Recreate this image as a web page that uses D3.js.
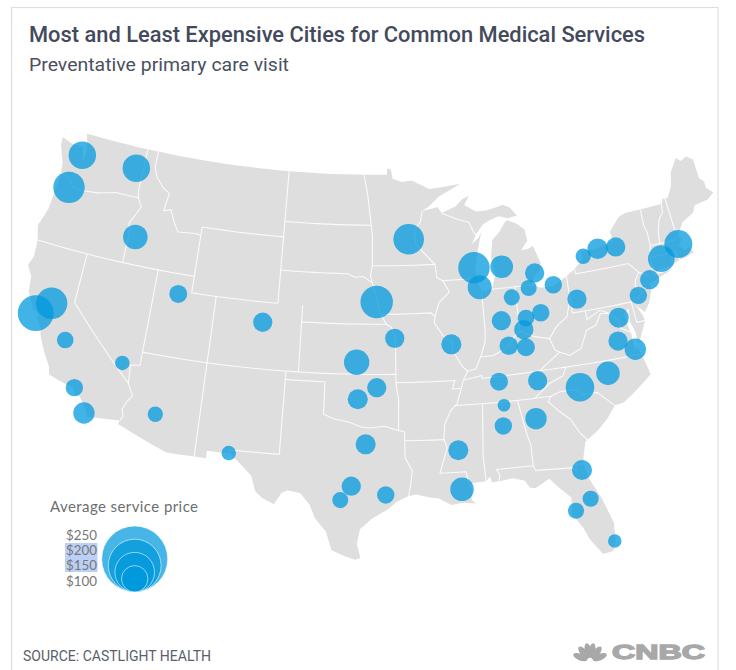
<!DOCTYPE html>
<html>
<head>
<meta charset="utf-8">
<script src="https://d3js.org/d3.v7.min.js"></script>
<style>
    body { margin: 0; background: #fff; }
    svg { display: block; }
</style>
</head>
<body>
<div id="chart"></div>
<script>
const cityNames = ['Minneapolis','Milwaukee','Chicago','Grand Rapids','Detroit','Toledo','Fort Wayne','Cleveland','Pittsburgh','Buffalo','Rochester','Syracuse','Boston','Hartford','New York','Philadelphia','Washington','Richmond','Norfolk','Raleigh','Charlotte','Knoxville','Nashville','Huntsville','Birmingham','Atlanta','Columbus','Dayton','Cincinnati','Indianapolis','Louisville','Lexington','St. Louis','Kansas City','Omaha','Tulsa','Wichita','Oklahoma City','Dallas','Austin','San Antonio','Houston','New Orleans','Jackson','Jacksonville','Orlando','Tampa','Miami','El Paso','Phoenix','Las Vegas','Los Angeles','San Diego','Fresno','Seattle','Spokane','Portland','Boise','San Francisco','Sacramento','Salt Lake City','Denver'];
const cityLon = [-93.35,-87.99,-87.66,-85.69,-83.05,-83.70,-85.15,-81.68,-79.98,-78.87,-77.58,-76.08,-70.99,-72.64,-73.96,-75.12,-77.00,-77.41,-76.24,-78.62,-80.86,-83.93,-86.83,-86.63,-86.83,-84.40,-83.00,-84.22,-84.50,-86.18,-85.81,-84.50,-90.25,-94.66,-96.08,-96.07,-97.62,-97.49,-96.87,-97.85,-98.59,-95.44,-90.12,-90.21,-81.64,-81.35,-82.46,-80.20,-106.64,-112.27,-115.38,-118.46,-117.36,-119.98,-122.61,-117.67,-122.95,-116.45,-122.70,-121.72,-112.10,-105.12];
const cityLat = [45.07,43.14,41.94,43.04,42.43,41.58,41.15,41.57,40.50,42.96,43.24,43.13,42.42,41.83,40.77,40.01,38.95,37.59,36.90,35.81,35.27,36.02,36.22,34.79,33.56,33.78,40.02,39.82,39.15,39.83,38.30,38.09,38.67,39.15,41.33,36.21,37.72,35.51,32.82,30.29,29.44,29.78,29.96,32.32,30.35,28.56,27.97,25.80,31.80,33.48,36.13,34.06,32.71,36.69,47.66,47.72,45.57,43.66,37.78,38.60,40.80,39.79];
const cityPrice = [116,119,91,86,73,61,61,66,73,58,78,73,106,101,73,66,76,73,81,89,108,73,68,48,66,81,66,63,73,73,70,68,76,73,123,73,96,76,76,73,61,66,89,76,76,61,61,51,55,58,55,66,81,63,104,104,119,93,136,119,68,73];

const legendPrices = [250, 200, 150, 100];
const legendLabels = ['$250', '$200', '$150', '$100'];

const titleText = 'Most and Least Expensive Cities for Common Medical Services';
const subtitleText = 'Preventative primary care visit';
const legendTitle = 'Average service price';
const sourceText = 'SOURCE: CASTLIGHT HEALTH';

// outline of the lower 48, clockwise from Cape Flattery, [lon, lat]
const landOutline = [
    [-124.73,48.38],[-123.9,48.17],[-123.1,48.15],[-122.76,48.14],[-122.55,47.6],[-122.45,47.3],[-122.3,47.9],[-122.5,48.5],[-122.76,49],
    [-95.15,49],[-95.15,49.38],[-94.8,49.33],[-94.64,48.74],[-93.8,48.55],[-92.95,48.62],[-92,48.3],[-91.4,48.07],[-90.75,48.1],[-88.6,48.25],
    [-90.5,47.6],[-91.5,47],[-92.1,46.75],[-91.2,46.87],[-90.75,46.95],[-90.4,46.57],[-89.2,46.9],[-88.45,47.35],[-87.9,47.47],[-88.4,46.95],[-87.4,46.5],[-86.5,46.5],[-85,46.75],[-84.4,46.5],[-84.1,46.2],[-83.9,46],[-84.7,45.9],[-85.5,46.08],[-86.3,45.9],[-86.9,45.7],[-87.6,45.1],[-88,44.55],[-87.4,44.9],[-87.1,45.25],[-87.5,44.3],[-87.9,43.1],[-87.8,42.3],[-87.55,41.75],[-87.2,41.63],[-86.6,41.9],[-86.25,42.7],[-86.5,43.6],[-86.25,44.7],[-85.6,45.1],[-85,45.7],[-84.75,45.78],[-84,45.5],[-83.4,45.1],[-83.3,44.4],[-83.9,43.9],[-83.4,43.9],[-82.9,44.05],[-82.45,43],[-82.5,42.6],[-83.1,42.25],[-83.45,41.72],[-82.7,41.5],[-81.7,41.5],[-80.5,41.97],[-79.8,42.27],[-78.9,42.85],[-79.05,43.27],[-77.5,43.27],[-76.2,43.55],[-76.3,44.1],[-75.3,44.85],[-74.7,45],[-71.5,45.01],[-71.3,45.3],[-70.85,45.25],[-70.3,45.9],[-70,46.7],[-69.23,47.46],[-68.9,47.2],[-68.3,47.36],[-67.8,47.07],[-67.78,45.9],[-67.45,45.6],[-67.45,45.2],[-66.97,44.82],[-67.6,44.5],[-68.8,44.4],[-69.1,44],[-70.2,43.6],[-70.7,43.05],[-70.8,42.85],[-70.6,42.65],[-71,42.3],[-70.6,41.95],[-70.2,42.07],[-69.95,41.7],[-70.6,41.55],[-71.2,41.48],[-71.9,41.3],[-72.9,41.25],[-73.65,40.98],[-72,41.05],[-73.9,40.58],[-74,40.55],[-74.05,40.1],[-74.4,39.45],[-74.9,38.95],[-75.3,39.3],[-75.55,39.55],[-75.1,38.75],[-75.05,38.45],[-75.6,37.6],[-75.95,37.15],[-75.95,37.9],[-76.2,38.6],[-76.1,39.35],[-76.5,39.2],[-76.45,38.4],[-76.3,37.9],[-76.3,37],[-76,36.9],[-75.75,36.2],[-75.5,35.25],[-76.5,34.65],[-77.9,33.9],[-78.55,33.85],[-79.2,33.2],[-80,32.6],[-81.1,32],[-81.4,31.1],[-81.45,30.7],[-81.3,29.9],[-80.6,28.5],[-80.05,26.9],[-80.15,25.75],[-80.4,25.2],[-81.1,25.13],[-81.8,26.1],[-82.15,26.9],[-82.75,27.8],[-82.65,28.8],[-83.4,29.5],[-84,30.1],[-85,29.65],[-85.4,29.7],[-85.7,30.15],[-86.5,30.38],[-87.5,30.28],[-88,30.25],[-88.1,30.6],[-88.4,30.35],[-89.3,30.3],[-89.6,30.18],[-89.4,29.9],[-89.5,29.3],[-89.2,29.05],[-90.1,29.15],[-90.9,29.05],[-91.8,29.5],[-92.3,29.55],[-93.3,29.77],[-93.85,29.7],[-94.7,29.35],[-95.3,28.9],[-96.4,28.35],[-97.2,27.7],[-97.4,26.8],[-97.15,25.95],[-97.5,25.85],[-98.2,26.05],[-99.1,26.4],[-99.5,27.5],[-100.3,28.3],[-100.7,29.1],[-101.4,29.77],[-102.3,29.88],[-102.7,29.7],[-103.15,28.98],[-104,29.3],[-104.5,29.65],[-104.9,30.6],[-106,31.4],[-106.53,31.78],[-108.2,31.78],[-108.2,31.33],[-111.07,31.33],[-114.8,32.5],[-114.72,32.72],[-117.12,32.53],[-117.25,32.85],[-117.9,33.6],[-118.4,33.75],[-118.5,34.03],[-119.2,34.15],[-120.5,34.45],[-120.65,34.9],[-121.3,35.7],[-121.9,36.6],[-122,36.95],[-122.5,37.5],[-122.5,37.8],[-123,38],[-123.7,38.9],[-123.85,39.8],[-124.35,40.4],[-124.1,41],[-124.2,42],[-124.55,42.85],[-124.1,44],[-123.95,46.2],[-124.1,46.9],[-124.7,47.9]
];

const stateBorders = [
    [[-124,46.25],[-123.2,46.15],[-122.8,45.75],[-122.3,45.55],[-121.2,45.65],[-120.5,45.7],[-119.3,45.93],[-119,46],[-116.92,46]],
    [[-117.03,49],[-117.04,46.4],[-116.92,46],[-116.5,45.5],[-116.85,44.95],[-117.22,44.4],[-117.03,43.85],[-117.03,42]],
    [[-124.2,42],[-111.05,42]],
    [[-120,42],[-120,39],[-114.63,35],[-114.15,34.3],[-114.5,33.9],[-114.72,33.4],[-114.55,33],[-114.72,32.72]],
    [[-114.04,42],[-114.04,36.2],[-114.75,36.1],[-114.63,35]],
    [[-116.05,49],[-116.05,48],[-115.7,47.45],[-114.95,46.9],[-114.35,46.65],[-114.55,45.55],[-113.95,45.7],[-113.45,44.95],[-113,44.45],[-111.5,44.55],[-111.05,44.48]],
    [[-111.05,45],[-104.05,45]],
    [[-111.05,45],[-111.05,41],[-104.05,41]],
    [[-109.05,41],[-109.05,31.33]],
    [[-114.04,37],[-94.62,37]],
    [[-104.05,49],[-104.05,41]],
    [[-102.05,41],[-102.05,37]],
    [[-103,37],[-103.04,32],[-106.62,32],[-106.53,31.78]],
    [[-103,36.5],[-100,36.5],[-100,34.56],[-99.2,34.3],[-98.1,34.13],[-97.2,33.85],[-96.5,33.8],[-95.5,33.9],[-94.48,33.64],[-94.04,33.55]],
    [[-104.05,45.94],[-96.56,45.94]],
    [[-104.05,43],[-98.5,43],[-97.9,42.8],[-97.2,42.85],[-96.45,42.49]],
    [[-102.05,40],[-95.3,40]],
    [[-95.77,40.58],[-95.3,40],[-94.9,39.8],[-94.6,39.1],[-94.62,36.5],[-94.43,35.4],[-94.48,33.64]],
    [[-97.23,49],[-96.85,47.6],[-96.56,45.94],[-96.45,45.3],[-96.45,43.5],[-96.6,42.9],[-96.45,42.49],[-96.1,41.7],[-95.9,41],[-95.77,40.58]],
    [[-96.45,43.5],[-91.22,43.5]],
    [[-95.77,40.58],[-91.73,40.61],[-91.42,40.38]],
    [[-92.1,46.75],[-92.3,46.1],[-92.85,45.6],[-92.75,44.75],[-91.22,43.5],[-91.1,42.7],[-90.64,42.5],[-90.15,41.8],[-91.05,41.2],[-91.42,40.38],[-91.5,40],[-90.7,39],[-90.15,38.8],[-90.2,38.3],[-89.5,37.3],[-89.13,37],[-89.5,36.5],[-89.7,36],[-90.1,35.1],[-90.6,34.7],[-91.1,33.9],[-91.2,33],[-91,32.5],[-91.6,31],[-89.75,31],[-89.6,30.18]],
    [[-90.64,42.5],[-87.8,42.5]],
    [[-90.4,46.57],[-89.1,46.13],[-88.1,45.9],[-87.8,45.35],[-87.6,45.1]],
    [[-87.53,41.7],[-87.53,39.35],[-87.6,38.7],[-87.95,38],[-88.05,37.8]],
    [[-89.13,37],[-88.5,37.1],[-88.05,37.8],[-87.1,37.8],[-86.5,38],[-85.8,38.27],[-85.4,38.72],[-84.82,39.1],[-84.3,38.85],[-83.7,38.65],[-82.6,38.42],[-82,39],[-81.7,39.2],[-81,39.55],[-80.75,40.1],[-80.52,40.63],[-80.52,41.97]],
    [[-84.82,39.1],[-84.8,41.76]],
    [[-86.82,41.76],[-84.8,41.76],[-83.45,41.73]],
    [[-80.52,40.63],[-80.52,39.72],[-75.79,39.72],[-75.7,38.46],[-75.05,38.45]],
    [[-79.76,42.27],[-79.76,42],[-75.35,42],[-74.7,41.36],[-75.1,40.9],[-75.2,40.6],[-74.72,40.15],[-75.4,39.8]],
    [[-74.7,41.36],[-73.9,41]],
    [[-76.3,37.95],[-77,38.3],[-77.05,38.8],[-77.7,39.32],[-78.35,39.6],[-79.48,39.2],[-79.48,39.72]],
    [[-77.72,39.32],[-78.35,39.4],[-78.87,38.76],[-79.65,38.57],[-80.3,37.55],[-81.25,37.25],[-81.97,37.54],[-82.3,37.7],[-82.6,38.42]],
    [[-81.97,37.54],[-83.68,36.6]],
    [[-75.87,36.55],[-81.68,36.59],[-83.68,36.6],[-88.07,36.5],[-88.07,36.68],[-89.42,36.5]],
    [[-90.3,35],[-84.32,34.99]],
    [[-81.68,36.59],[-82,36.1],[-83.1,35.75],[-84.32,34.99]],
    [[-84.32,35],[-83.1,35],[-82.3,35.2],[-81.05,35.15],[-80.8,34.82],[-79.67,34.8],[-78.55,33.85]],
    [[-83.1,35],[-83.35,34.7],[-82.6,34],[-81.9,33.45],[-81.4,32.6],[-80.88,32.03]],
    [[-85.6,34.98],[-85.18,32.87],[-85,32.3],[-85,31],[-87.6,31],[-87.4,30.65],[-87.5,30.28]],
    [[-85,31],[-84.86,30.7],[-82.2,30.57],[-82.05,30.36],[-82,30.75],[-81.45,30.7]],
    [[-88.2,35],[-88.47,31.9],[-88.4,30.35]],
    [[-94.04,33.02],[-91.17,33]],
    [[-94.62,36.5],[-90.15,36.5],[-90.37,36],[-89.7,36]],
    [[-94.04,33.55],[-94.04,32],[-93.55,31.2],[-93.7,30.3],[-93.85,29.7]],
    [[-73.35,45],[-73.4,44],[-73.25,43.55],[-73.27,42.75],[-73.5,42.05],[-73.5,41.3],[-73.65,41]],
    [[-71.5,45.01],[-71.6,44.5],[-72.05,44.1],[-72.35,43.4],[-72.46,42.73]],
    [[-73.27,42.75],[-71.3,42.7],[-70.8,42.87]],
    [[-70.7,43.05],[-70.98,43.4],[-71.08,45.3]],
    [[-73.5,42.05],[-71.38,42.02],[-71.2,41.5]],
    [[-71.8,42.02],[-71.85,41.32]]
];

const featherAngles = [-68, -38, -11, 11, 38, 68];

const width = 736, height = 670;
const svg = d3.select('#chart').append('svg')
    .attr('width', width)
    .attr('height', height);

// frame runs off the bottom of the page
svg.append('rect')
    .attr('x', 11.5).attr('y', 7.5)
    .attr('width', 706.5).attr('height', 680)
    .attr('fill', 'none').attr('stroke', '#dedede').attr('stroke-width', 1.2);

svg.append('text')
    .attr('x', 29).attr('y', 42)
    .attr('textLength', 616).attr('lengthAdjust', 'spacingAndGlyphs')
    .style('font', "500 22px Roboto").style('fill', '#434a5c')
    .text(titleText);

svg.append('text')
    .attr('x', 29).attr('y', 71)
    .attr('textLength', 260).attr('lengthAdjust', 'spacingAndGlyphs')
    .style('font', "400 19px Roboto").style('fill', '#4a5060')
    .text(subtitleText);

const projection = d3.geoAlbers().scale(950).translate([370, 346]);

// split long edges so parallels curve the way the projection bends them
function densify(coords) {
    const out = [coords[0]];
    for (let i = 1; i < coords.length; i++) {
        const a = coords[i - 1], b = coords[i];
        const steps = Math.max(1, Math.ceil(Math.abs(b[0] - a[0])));
        for (let s = 1; s <= steps; s++) {
            out.push([a[0] + (b[0] - a[0]) * s / steps, a[1] + (b[1] - a[1]) * s / steps]);
        }
    }
    return out;
}

const geoLine = d3.line().x(d => projection(d)[0]).y(d => projection(d)[1]);

svg.append('path')
    .attr('d', geoLine(densify(landOutline)) + 'Z')
    .attr('fill', '#dedede');

svg.append('g').selectAll('path')
    .data(stateBorders)
    .enter().append('path')
    .attr('d', d => geoLine(densify(d)))
    .attr('fill', 'none')
    .attr('stroke', '#fff')
    .attr('stroke-width', 1.1)
    .attr('stroke-opacity', 0.85);

const rScale = d3.scaleLinear().domain([0, 250]).range([0, 33]);
const circleColor = '#0099dd';

const cities = cityNames.map((name, i) => ({
    name, lon: cityLon[i], lat: cityLat[i], price: cityPrice[i]
}));

svg.append('g').selectAll('circle')
    .data(cities)
    .enter().append('circle')
    .attr('cx', d => projection([d.lon, d.lat])[0])
    .attr('cy', d => projection([d.lon, d.lat])[1])
    .attr('r', d => rScale(d.price))
    .attr('fill', circleColor)
    .attr('fill-opacity', 0.74);

// legend
svg.append('text')
    .attr('x', 50).attr('y', 512)
    .attr('textLength', 148)
    .style('font', "15px Lato").style('fill', '#6e6e6e')
    .text(legendTitle);

// the selection highlight left behind the two middle labels
svg.append('rect')
    .attr('x', 65).attr('y', 543)
    .attr('width', 32.5).attr('height', 29)
    .attr('fill', '#bcd0f5');

const legendY = d3.scalePoint().domain(legendLabels).range([540, 585.5]);

svg.append('g').selectAll('text')
    .data(legendLabels)
    .enter().append('text')
    .attr('x', 66)
    .attr('y', d => legendY(d))
    .attr('textLength', 31).attr('lengthAdjust', 'spacingAndGlyphs')
    .style('font', "12.6px Lato").style('fill', '#777')
    .text(d => d);

const legendBottom = 592, legendX = 134.7;
svg.append('g').selectAll('circle')
    .data(legendPrices)
    .enter().append('circle')
    .attr('cx', legendX)
    .attr('cy', d => legendBottom - rScale(d))
    .attr('r', d => rScale(d))
    .attr('fill', circleColor)
    .attr('fill-opacity', 0.72)
    .attr('stroke', '#fff')
    .attr('stroke-opacity', 0.7)
    .attr('stroke-width', 0.8);

svg.append('text')
    .attr('x', 23).attr('y', 660.5)
    .attr('textLength', 188).attr('lengthAdjust', 'spacingAndGlyphs')
    .style('font', "14.5px Roboto").style('fill', '#5b5f6a')
    .text(sourceText);

// CNBC mark
const logo = svg.append('g').attr('transform', 'translate(590,661)');
logo.selectAll('ellipse')
    .data(featherAngles)
    .enter().append('ellipse')
    .attr('cx', 0).attr('cy', -10.5)
    .attr('rx', 3.3).attr('ry', 7.5)
    .attr('transform', d => `rotate(${d})`)
    .attr('fill', '#a8a8a8');

svg.append('text')
    .attr('x', 612).attr('y', 659)
    .attr('textLength', 93).attr('lengthAdjust', 'spacingAndGlyphs')
    .style('font', "bold 19.5px 'Liberation Sans'").style('fill', '#a8a8a8')
    .style('stroke', '#a8a8a8').style('stroke-width', 1.3)
    .text('CNBC');
</script>
</body>
</html>
